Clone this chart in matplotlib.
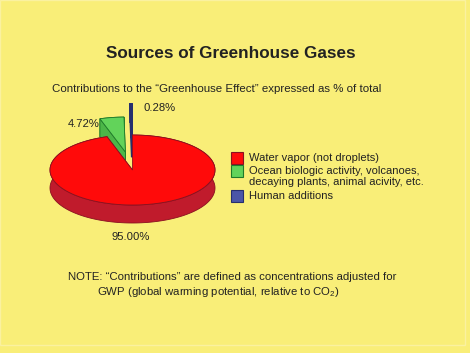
import matplotlib.pyplot as plt
import numpy as np
from matplotlib.patches import Polygon, Rectangle

plt.rcParams['font.family'] = ['Liberation Sans', 'DejaVu Sans']
plt.rcParams['mathtext.fontset'] = 'custom'
plt.rcParams['mathtext.rm'] = 'Liberation Sans'
plt.rcParams['mathtext.default'] = 'regular'

# data
labels = ["Water vapor (not droplets)",
          "Ocean biologic activity, volcanoes,\ndecaying plants, animal acivity, etc.",
          "Human additions"]
values = [95.00, 4.72, 0.28]
value_text = ["95.00%", "4.72%", "0.28%"]
explode = [0.0, 0.52, 0.88]

top_colors = ["#ff0a0a", "#62d35a", "#4b56a8"]
side_colors = ["#c01b2c", "#4cb648", "#2f3a80"]
edge_colors = ["#8a1020", "#1f7a2a", "#262f6e"]
edge_widths = [0.6, 0.6, 1.3]

bg = "#f9ee78"
txt = "#222222"

W, H = 470, 353
fig = plt.figure(figsize=(W / 100, H / 100), dpi=100)
fig.patch.set_facecolor(bg)
ax = fig.add_axes([0, 0, 1, 1])
ax.set_xlim(0, W)
ax.set_ylim(H, 0)
ax.axis("off")

# faint frame like the scanned original
ax.add_patch(Rectangle((0, 0), 465, 345, fill=False, ec="#faf1a0", lw=1.0))

cx, cy, rx, ry, depth = 132.5, 170, 82.5, 35, 18


def wedge3d(a1, a2, off, top, side, edge, lw):
    t = np.radians(np.linspace(a1, a2, 200))
    ox = off * rx * np.cos(np.radians((a1 + a2) / 2))
    oy = -off * ry * np.sin(np.radians((a1 + a2) / 2))
    x0, y0 = cx + ox, cy + oy
    xs = x0 + rx * np.cos(t)
    ys = y0 - ry * np.sin(t)
    # outer side band
    band = np.column_stack([np.r_[xs, xs[::-1]], np.r_[ys, ys[::-1] + depth]])
    ax.add_patch(Polygon(band, closed=True, fc=side, ec=edge, lw=lw))
    # radial faces
    for i in (0, -1):
        face = [(x0, y0), (xs[i], ys[i]), (xs[i], ys[i] + depth), (x0, y0 + depth)]
        ax.add_patch(Polygon(face, closed=True, fc=side, ec=edge, lw=lw))
    # top face
    face = np.column_stack([np.r_[x0, xs], np.r_[y0, ys]])
    ax.add_patch(Polygon(face, closed=True, fc=top, ec=edge, lw=lw))


# angles: blue starts at 90 deg, then green, then red (counter-clockwise)
order = [2, 1, 0]
start = 90.0
angles = {}
for k in order:
    span = values[k] / sum(values) * 360
    angles[k] = (start, start + span)
    start += span

for k in (2, 1, 0):
    a1, a2 = angles[k]
    wedge3d(a1, a2, explode[k], top_colors[k], side_colors[k], edge_colors[k],
            edge_widths[k])

# value labels
ax.text(131, 237, value_text[0], fontsize=8.1, color=txt, ha="center", va="center")
ax.text(100, 124, value_text[1], fontsize=8.1, color=txt, ha="right", va="center")
ax.text(143, 108, value_text[2], fontsize=8.1, color=txt, ha="left", va="center")

# titles
ax.text(231, 53, "Sources of Greenhouse Gases", fontsize=12.35, fontweight="bold",
        color=txt, ha="center", va="center")
ax.text(216.5, 89, "Contributions to the \u201cGreenhouse Effect\u201d expressed as % of total",
        fontsize=8.25, color=txt, ha="center", va="center")

# legend
box_y = [152, 165, 190]
text_y = [158, 176.5, 196]
for k in range(3):
    ax.add_patch(Rectangle((231, box_y[k]), 12, 12, fc=top_colors[k],
                           ec=edge_colors[k], lw=0.8))
    ax.text(249, text_y[k], labels[k], fontsize=8.0, color=txt, ha="left",
            va="center", linespacing=1.02)

# note
ax.text(68, 277, "NOTE: \u201cContributions\u201d are defined as concentrations adjusted for",
        fontsize=8.2, color=txt, ha="left", va="center")
ax.text(97, 292, "GWP (global warming potential, relative to CO$_2$)",
        fontsize=8.2, color=txt, ha="left", va="center")

fig.savefig("out.png", dpi=100, facecolor=bg)
